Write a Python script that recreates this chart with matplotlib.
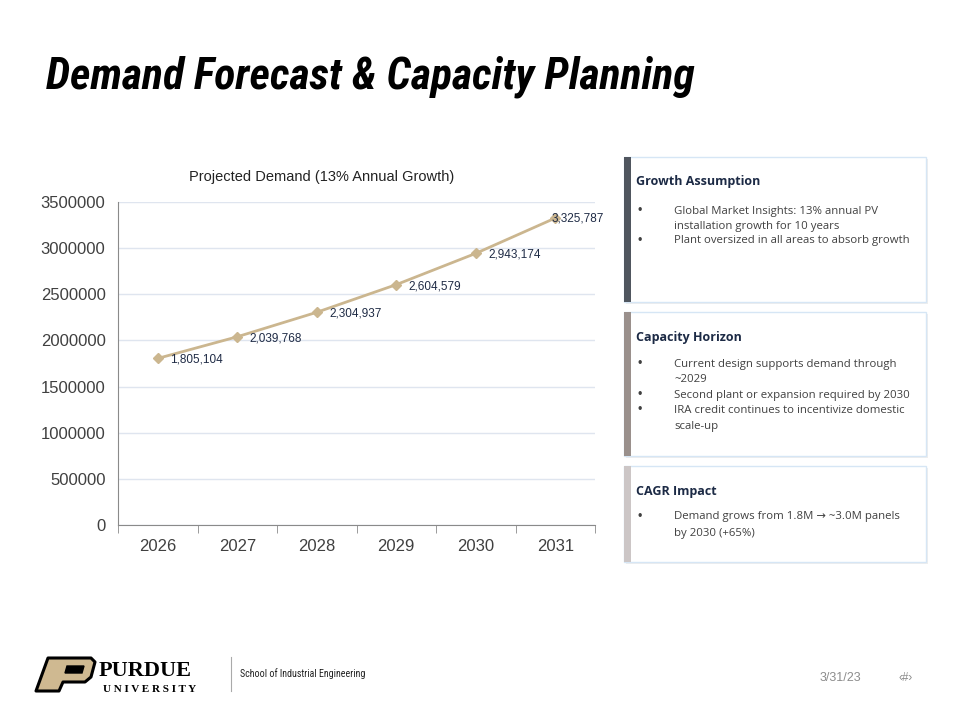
import matplotlib.pyplot as plt
from matplotlib import font_manager as fm
from matplotlib.font_manager import FontProperties
from matplotlib.patches import Rectangle, Polygon

plt.rcParams['font.family'] = ['Liberation Sans', 'DejaVu Sans']

# data
years = ['2026', '2027', '2028', '2029', '2030', '2031']
demand = [1805104, 2039768, 2304937, 2604579, 2943174, 3325787]
yticks = [0, 500000, 1000000, 1500000, 2000000, 2500000, 3000000, 3500000]

card_titles = ['Growth Assumption', 'Capacity Horizon', 'CAGR Impact']
card_bullets = [
    [['Global Market Insights: 13% annual PV', 'installation growth for 10 years'],
     ['Plant oversized in all areas to absorb growth']],
    [['Current design supports demand through', '~2029'],
     ['Second plant or expansion required by 2030'],
     ['IRA credit continues to incentivize domestic', 'scale-up']],
    [['Demand grows from 1.8M \u2192 ~3.0M panels', 'by 2030 (+65%)']],
]

W, H = 960, 720
fig = plt.figure(figsize=(9.6, 7.2), dpi=100)


def fx(px):
    return px / W


def fy(py):
    return 1 - py / H


def find_condensed(bold=True, italic=True):
    best = None
    for f in fm.fontManager.ttflist:
        narrow = ('Condensed' in f.name or 'Narrow' in f.name
                  or 'Condensed' in f.fname or 'Narrow' in f.fname
                  or f.stretch in ('condensed', 'semi-condensed', 'extra-condensed'))
        if not narrow:
            continue
        w = f.weight if isinstance(f.weight, int) else 400
        score = 0
        if bold and w >= 600:
            score += 2
        if italic and f.style in ('italic', 'oblique'):
            score += 2
        if not bold and w < 600:
            score += 2
        if not italic and f.style == 'normal':
            score += 2
        if 'Roboto' in f.name:
            score += 1
        if best is None or score > best[0]:
            best = (score, f.fname)
    return best[1] if best else None


title_font = find_condensed(True, True)
label_font = find_condensed(False, False)

# slide title, fitted to the reference width
if title_font:
    tprops = FontProperties(fname=title_font, size=30)
else:
    tprops = FontProperties(family='Liberation Sans', weight='bold', style='italic', size=30)
title = fig.text(fx(46), fy(88), 'Demand Forecast & Capacity Planning',
                 fontproperties=tprops, va='baseline', ha='left', color='black')
r = fig.canvas.get_renderer()
tw = title.get_window_extent(r).width
title.set_fontsize(30 * 648 / tw)

# chart
ax = fig.add_axes([fx(118), fy(525), fx(595) - fx(118), fy(202) - fy(525)])
x = list(range(len(years)))
ax.plot(x, demand, color='#cbb68f', lw=2, marker='D', ms=5, zorder=3)
for i, v in enumerate(demand):
    if i == len(demand) - 1:
        off = (-3, 0)
    else:
        off = (9, -1)
    ax.annotate(f'{v:,}', (i, v), xytext=off, textcoords='offset points',
                fontsize=8.5, color='#1f2b45', va='center', ha='left', zorder=4)

ax.set_xlim(-0.5, len(years) - 0.5)
ax.set_ylim(0, 3500000)
ax.set_yticks(yticks)
ax.set_yticklabels([str(t) for t in yticks])
ax.set_xticks(x)
ax.set_xticklabels(years)
ax.set_xticks([i - 0.5 for i in range(len(years) + 1)], minor=True)
ax.tick_params(axis='x', which='major', length=0, pad=10, labelsize=12, colors='#404040')
ax.tick_params(axis='x', which='minor', length=6, color='#8a8a8a')
ax.tick_params(axis='y', length=0, pad=9, labelsize=12, colors='#404040')
ax.grid(axis='y', color='#dfe5ef', lw=1)
ax.set_axisbelow(True)
for s in ['top', 'right']:
    ax.spines[s].set_visible(False)
for s in ['left', 'bottom']:
    ax.spines[s].set_color('#8a8a8a')
fig.text(fx(322), fy(177), 'Projected Demand (13% Annual Growth)', fontsize=10.5,
         color='#222222', ha='center', va='center')

# cards
card_tops = [157, 312, 466]
card_bottoms = [302, 456, 562]
first_line = [54, 52, 51]
line_step = [15, 15.5, 16.5]
bar_colors = ['#50565f', '#9a908c', '#ccc6c6']
for k in range(3):
    top, bot = card_tops[k], card_bottoms[k]
    x0, x1 = 624, 926
    fig.patches.append(Rectangle((fx(x0 + 2), fy(bot + 2)), fx(x1 - x0), fy(top) - fy(bot),
                                 transform=fig.transFigure, facecolor='#eeeeee',
                                 edgecolor='none', zorder=1))
    fig.patches.append(Rectangle((fx(x0), fy(bot)), fx(x1 - x0), fy(top) - fy(bot),
                                 transform=fig.transFigure, facecolor='white',
                                 edgecolor='#d6e6f5', lw=1, zorder=2))
    fig.patches.append(Rectangle((fx(x0), fy(bot)), fx(7), fy(top) - fy(bot),
                                 transform=fig.transFigure, facecolor=bar_colors[k],
                                 edgecolor='none', zorder=3))
    fig.text(fx(636), fy(top + 25), card_titles[k], fontsize=9, fontweight='bold',
             family=['Open Sans', 'DejaVu Sans'], color='#1c2a45', va='center', zorder=4)
    yy = top + first_line[k]
    for bullet in card_bullets[k]:
        fig.text(fx(638), fy(yy), '\u2022', fontsize=9, color='#404040',
                 va='center', zorder=4)
        for line in bullet:
            fig.text(fx(674), fy(yy), line, fontsize=8.2, color='#404040',
                     family=['Open Sans', 'DejaVu Sans'], va='center', zorder=4)
            yy += line_step[k]

# footer logo: block P
outer = [(48, 658), (91, 658), (95, 662), (91, 677), (85, 682), (63, 682),
         (59, 691), (36, 691)]
slot = [(67, 666), (84, 666), (82, 673), (65, 673)]
fig.patches.append(Polygon([(fx(a), fy(b)) for a, b in outer], closed=True,
                           transform=fig.transFigure, facecolor='#cfb991',
                           edgecolor='black', lw=2.2, joinstyle='round'))
fig.patches.append(Polygon([(fx(a), fy(b)) for a, b in slot], closed=True,
                           transform=fig.transFigure, facecolor='black',
                           edgecolor='black', lw=1))
fig.text(fx(99), fy(676), 'PURDUE', fontsize=16, fontweight='bold',
         family=['Liberation Serif', 'DejaVu Serif'], color='black', va='baseline', ha='left')
fig.text(fx(103), fy(692), 'U N I V E R S I T Y', fontsize=8, fontweight='bold',
         family=['Liberation Serif', 'DejaVu Serif'], color='black', va='baseline', ha='left')
fig.add_artist(plt.Line2D([fx(231), fx(231)], [fy(657), fy(691)], color='#aaaaaa', lw=0.8))
school = fig.text(fx(240), fy(674), 'School of Industrial Engineering', fontsize=7.5,
                  color='#222222', va='center')
if label_font:
    school.set_fontproperties(FontProperties(fname=label_font, size=7.5))
sw = school.get_window_extent(r).width
school.set_fontsize(7.5 * 126 / sw)
fig.text(fx(840), fy(678), '3/31/23', fontsize=9, color='#8c8c8c', va='center', ha='center')
fig.text(fx(906), fy(678), '\u2039#\u203a', fontsize=8.5, color='#8c8c8c', va='center', ha='center')

fig.savefig('out.png', dpi=100)
